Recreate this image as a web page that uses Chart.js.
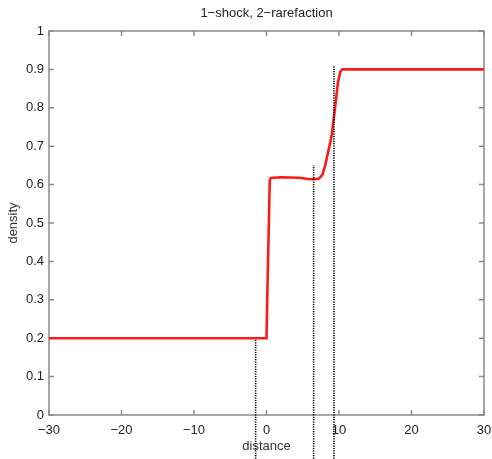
<!DOCTYPE html>
<html>
<head>
<meta charset="utf-8">
<script src="https://cdn.jsdelivr.net/npm/chart.js@4"></script>
<style>
  html, body { margin: 0; padding: 0; background: #ffffff; }
  #wrap { width: 492px; height: 459px; position: relative; }
</style>
</head>
<body>
<div id="wrap"><canvas id="c" width="492" height="459"></canvas></div>
<script>
// ---- data ----
const distance = [-30, -15, 0.0, 0.1, 0.45, 0.6, 2.0, 4.5, 6.0, 7.2, 7.7, 8.1, 8.8, 9.0, 9.45, 9.85, 10.2, 10.5, 15, 30];
const density  = [0.2, 0.2, 0.2, 0.3, 0.612, 0.617, 0.619, 0.618, 0.614, 0.615, 0.625, 0.65, 0.71, 0.73, 0.80, 0.865, 0.895, 0.9, 0.9, 0.9];

const markerX      = [-1.5, 6.5, 9.3];
const markerTop    = [0.195, 0.65, 0.91];
const markerBottom = [-0.12, -0.12, -0.12];

const xTickValues = [-30, -20, -10, 0, 10, 20, 30];
const xTickLabels = ['\u221230', '\u221220', '\u221210', '0', '10', '20', '30'];
const yTickValues = [0, 0.1, 0.2, 0.3, 0.4, 0.5, 0.6, 0.7, 0.8, 0.9, 1];
const yTickLabels = ['0', '0.1', '0.2', '0.3', '0.4', '0.5', '0.6', '0.7', '0.8', '0.9', '1'];

const titleText = '1\u2212shock, 2\u2212rarefaction';
const xTitle = 'distance';
const yTitle = 'density';

// ---- datasets ----
const curve = distance.map((x, i) => ({ x: x, y: density[i] }));
const datasets = markerX.map((x, i) => ({
  data: [{ x: x, y: markerBottom[i] }, { x: x, y: markerTop[i] }],
  borderColor: '#000000',
  borderWidth: 1.6,
  borderDash: [1.2, 1.2],
  pointRadius: 0,
  showLine: true,
  clip: false,
  order: 0
}));
datasets.push({
  data: curve,
  borderColor: '#ff1a1a',
  borderWidth: 2.6,
  pointRadius: 0,
  showLine: true,
  tension: 0,
  order: 1
});

// MATLAB-like box with inward ticks on all four sides
const boxPlugin = {
  id: 'box',
  beforeDatasetsDraw(chart) {
    const { ctx, chartArea: a, scales } = chart;
    ctx.save();
    ctx.strokeStyle = '#8a8a8a';
    ctx.lineWidth = 1.5;
    const L = 5;
    ctx.beginPath();
    xTickValues.forEach(v => {
      const px = scales.x.getPixelForValue(v);
      ctx.moveTo(px, a.bottom); ctx.lineTo(px, a.bottom - L);
      ctx.moveTo(px, a.top); ctx.lineTo(px, a.top + L);
    });
    yTickValues.forEach(v => {
      const py = scales.y.getPixelForValue(v);
      ctx.moveTo(a.left, py); ctx.lineTo(a.left + L, py);
      ctx.moveTo(a.right, py); ctx.lineTo(a.right - L, py);
    });
    ctx.stroke();
    ctx.strokeRect(a.left, a.top, a.right - a.left, a.bottom - a.top);
    ctx.restore();
  }
};

const fontFam = "'Liberation Sans', Arial, sans-serif";

new Chart(document.getElementById('c'), {
  type: 'scatter',
  data: { datasets: datasets },
  plugins: [boxPlugin],
  options: {
    responsive: false,
    animation: false,
    devicePixelRatio: 1,
    layout: { padding: { left: 0, right: 8, top: 0, bottom: 0 } },
    plugins: {
      legend: { display: false },
      tooltip: { enabled: false },
      title: {
        display: true,
        text: titleText,
        fullSize: false,
        color: '#222222',
        font: { family: fontFam, size: 13, weight: 'normal', lineHeight: 1.2 },
        padding: { top: 6, bottom: 9.4 }
      }
    },
    scales: {
      x: {
        type: 'linear',
        min: -30, max: 30,
        afterBuildTicks(scale) { scale.ticks = xTickValues.map(v => ({ value: v })); },
        afterFit(scale) { scale.height = 44; scale.paddingLeft = 0; scale.paddingRight = 0; },
        grid: { display: false, drawTicks: false },
        border: { display: false },
        ticks: {
          padding: 8,
          color: '#222222',
          maxRotation: 0,
          autoSkip: false,
          font: { family: fontFam, size: 13 },
          callback: (v) => { const i = xTickValues.indexOf(v); return i >= 0 ? xTickLabels[i] : ''; }
        },
        title: {
          display: true, text: xTitle, color: '#333333',
          font: { family: fontFam, size: 13, lineHeight: 1.2 },
          padding: { top: 0, bottom: 5 }
        }
      },
      y: {
        type: 'linear',
        min: 0, max: 1,
        afterBuildTicks(scale) { scale.ticks = yTickValues.map(v => ({ value: v })); },
        afterFit(scale) { scale.width = 49; scale.paddingTop = 0; scale.paddingBottom = 0; },
        grid: { display: false, drawTicks: false },
        border: { display: false },
        ticks: {
          padding: 5,
          color: '#222222',
          autoSkip: false,
          font: { family: fontFam, size: 13 },
          callback: (v) => { const i = yTickValues.findIndex(t => Math.abs(t - v) < 1e-9); return i >= 0 ? yTickLabels[i] : ''; }
        },
        title: {
          display: true, text: yTitle, color: '#333333',
          font: { family: fontFam, size: 13, lineHeight: 1.2 },
          padding: { top: 6, bottom: 0 }
        }
      }
    }
  }
});
</script>
</body>
</html>
